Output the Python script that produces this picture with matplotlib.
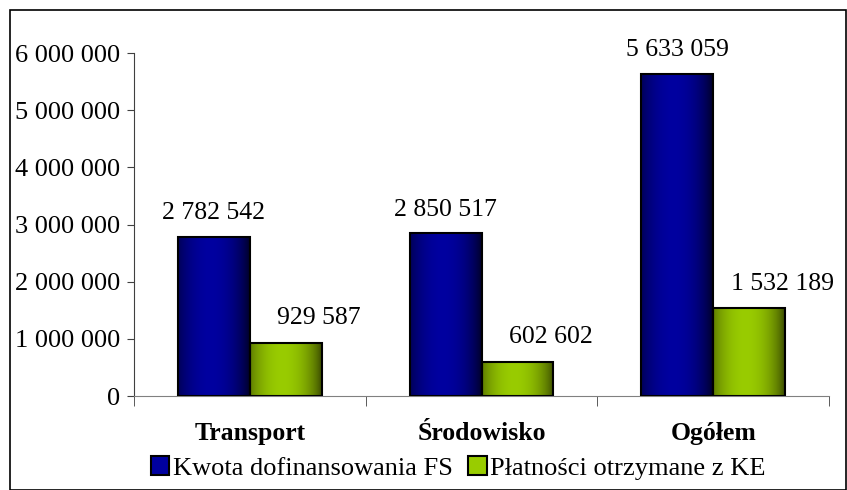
import numpy as np
import matplotlib
matplotlib.use("Agg")
import matplotlib.pyplot as plt
from matplotlib.patches import Rectangle, Patch
from matplotlib.ticker import FuncFormatter, FixedLocator

categories = ["Transport", "Środowisko", "Ogółem"]
series_names = ["Kwota dofinansowania FS", "Płatności otrzymane z KE"]
kwota = [2782542, 2850517, 5633059]
platnosci = [929587, 602602, 1532189]
yticks = [0, 1000000, 2000000, 3000000, 4000000, 5000000, 6000000]

plt.rcParams['font.family'] = 'serif'
plt.rcParams['font.serif'] = ['Liberation Serif', 'Times New Roman', 'DejaVu Serif']

fig = plt.figure(figsize=(8.47, 4.90), dpi=100)
W, H = 847, 490
ax = fig.add_axes([134 / W, 1 - 396 / H, (829 - 134) / W, (396 - 53) / H])

x = np.arange(len(categories))
bw = 0.31

def fmt(v):
    return f"{int(v):,}".replace(",", " ")

def gradient(dark, bright, n=64):
    t = np.linspace(0, 1, n)
    f = 1 - ((t - 0.45) / 0.55) ** 2
    f = np.clip(f, 0, 1) ** 0.8
    dark = np.array(matplotlib.colors.to_rgb(dark))
    bright = np.array(matplotlib.colors.to_rgb(bright))
    cols = dark[None, :] * (1 - f[:, None]) + bright[None, :] * f[:, None]
    return cols[None, :, :]

blue_grad = gradient("#000028", "#0000a0")
green_grad = gradient("#3a4a00", "#99cc00")

b1 = ax.bar(x - bw / 2, kwota, bw, color="#000080", zorder=2)
b2 = ax.bar(x + bw / 2, platnosci, bw, color="#80aa00", zorder=2)
for bars, grad in ((b1, blue_grad), (b2, green_grad)):
    for p in bars:
        x0, y0, w, h = p.get_x(), p.get_y(), p.get_width(), p.get_height()
        ax.imshow(grad, extent=(x0, x0 + w, y0, y0 + h), aspect='auto',
                  zorder=2.5, interpolation='bilinear')
ax.bar(x - bw / 2, kwota, bw, fill=False, edgecolor="black", linewidth=1.5, zorder=3)
ax.bar(x + bw / 2, platnosci, bw, fill=False, edgecolor="black", linewidth=1.5, zorder=3)

FS = 18.5
for xi, v in zip(x, kwota):
    ax.annotate(fmt(v), (xi - bw / 2, v), xytext=(0, 9), textcoords='offset points',
                ha='center', va='bottom', fontsize=FS)
for xi, v in zip(x, platnosci):
    ax.annotate(fmt(v), (xi + bw / 2, v), xytext=(24, 10), textcoords='offset points',
                ha='center', va='bottom', fontsize=FS)

ax.set_xlim(-0.5, 2.5)
ax.set_ylim(0, 6000000)
ax.set_yticks(yticks)
ax.yaxis.set_major_formatter(FuncFormatter(lambda v, p: fmt(v)))
ax.set_xticks(x)
ax.set_xticklabels(categories, fontweight='bold', fontsize=FS)
ax.xaxis.set_minor_locator(FixedLocator([-0.5, 0.5, 1.5, 2.5]))
ax.tick_params(axis='x', which='major', length=0, pad=19)
ax.tick_params(axis='x', which='minor', length=7, direction='out', color="#404040")
ax.tick_params(axis='y', length=5, direction='out', labelsize=FS + 0.5, pad=5, color="#404040")
for s in ("top", "right"):
    ax.spines[s].set_visible(False)
ax.spines['left'].set_color("#404040")
ax.spines['bottom'].set_color("#808080")

handles = [Patch(facecolor="#0000a0", edgecolor="black", linewidth=1.5),
           Patch(facecolor="#99cc00", edgecolor="black", linewidth=1.5)]
fig.legend(handles, series_names, loc='center left', bbox_to_anchor=(151 / W, 1 - 468 / H),
           ncol=2, frameon=False, fontsize=19, handlelength=0.7, handleheight=0.7,
           handletextpad=0.12, columnspacing=0.6, borderaxespad=0, borderpad=0)

fig.patches.append(Rectangle((9.5 / W, 0.5 / H), (845.5 - 9.5) / W, (479.5) / H,
                             transform=fig.transFigure, fill=False, edgecolor="black",
                             linewidth=1.2))

fig.savefig("out.png", dpi=100)
